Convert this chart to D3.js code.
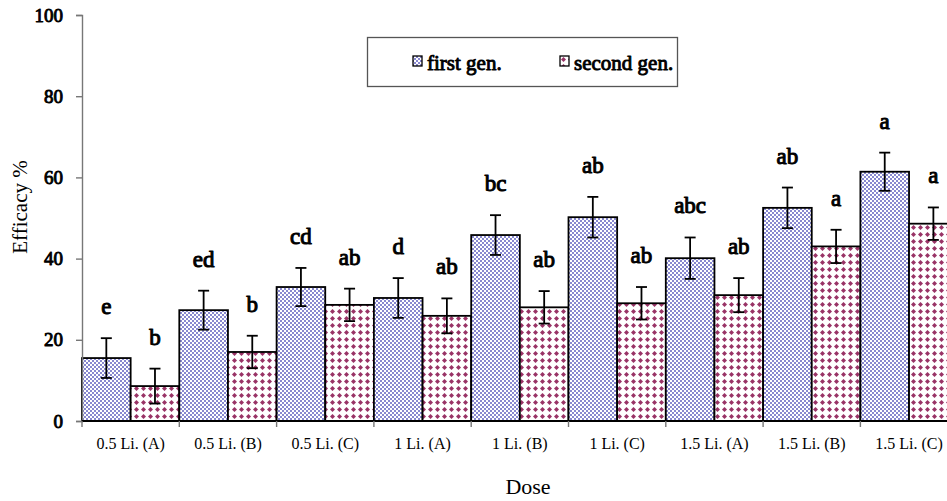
<!DOCTYPE html>
<html>
<head>
<meta charset="utf-8">
<script src="https://cdn.jsdelivr.net/npm/d3@7"></script>
<style>
  html, body { margin: 0; padding: 0; background: #fff; }
  svg { display: block; }
  text { font-family: "Liberation Serif", "Times New Roman", serif; fill: #000; }
  /* heavy serif look: regular face with a thin outline */
  text.heavy { font-weight: normal; stroke: #000; stroke-linejoin: round; }
</style>
</head>
<body>
<svg id="chart" width="947" height="501"></svg>
<script>
// values
const doses = ["0.5 Li. (A)", "0.5 Li. (B)", "0.5 Li. (C)", "1 Li. (A)", "1 Li. (B)",
  "1 Li. (C)", "1.5 Li. (A)", "1.5 Li. (B)", "1.5 Li. (C)"];
const series = ["first gen.", "second gen."];
const firstGen = [15.5, 27.3, 33.0, 30.3, 45.8, 50.2, 40.1, 52.5, 61.4];
const firstErr = [4.9, 4.8, 4.7, 4.9, 4.9, 5.0, 5.1, 5.0, 4.7];
const firstLetters = ["e", "ed", "cd", "d", "bc", "ab", "abc", "ab", "a"];
const secondGen = [8.6, 17.0, 28.6, 25.9, 28.0, 29.0, 31.0, 43.0, 48.6];
const secondErr = [4.3, 4.0, 4.0, 4.3, 4.0, 4.0, 4.2, 4.1, 4.0];
const secondLetters = ["b", "b", "ab", "ab", "ab", "ab", "ab", "a", "a"];
const yTicks = [0, 20, 40, 60, 80, 100];

const svg = d3.select("#chart");
const plotLeft = 82, plotBottom = 421, plotTop = 15, band = 97.3;

// fill patterns: lavender checkerboard, plum diamonds
const defs = svg.append("defs");
const chk = defs.append("pattern").attr("id", "pat-first")
  .attr("patternUnits", "userSpaceOnUse").attr("width", 4).attr("height", 4);
chk.append("rect").attr("width", 4).attr("height", 4).attr("fill", "#fff");
chk.append("rect").attr("width", 2).attr("height", 2).attr("fill", "#8888cf");
chk.append("rect").attr("x", 2).attr("y", 2).attr("width", 2).attr("height", 2).attr("fill", "#8888cf");

const dia = defs.append("pattern").attr("id", "pat-second")
  .attr("patternUnits", "userSpaceOnUse").attr("width", 7).attr("height", 7);
dia.append("rect").attr("width", 7).attr("height", 7).attr("fill", "#fff");
dia.append("path").attr("d", "M3.5,1 L6,3.5 L3.5,6 L1,3.5 Z").attr("fill", "#993366");

const x = d3.scaleBand().domain(doses).range([plotLeft, plotLeft + band * doses.length]).padding(0);
const xs = d3.scaleBand().domain(series).range([0, x.bandwidth()]).padding(0);
const y = d3.scaleLinear().domain([0, 100]).range([plotBottom, plotTop]);

const rows = doses.map((d, i) => [
  { dose: d, s: series[0], v: firstGen[i], e: firstErr[i], t: firstLetters[i] },
  { dose: d, s: series[1], v: secondGen[i], e: secondErr[i], t: secondLetters[i] },
]).flat();
const fillOf = (s) => s === series[0] ? "url(#pat-first)" : "url(#pat-second)";

// bars
svg.append("g").selectAll("rect").data(rows).join("rect")
  .attr("x", (d) => x(d.dose) + xs(d.s)).attr("width", xs.bandwidth())
  .attr("y", (d) => y(d.v)).attr("height", (d) => y(0) - y(d.v))
  .attr("fill", (d) => fillOf(d.s)).attr("stroke", "#000").attr("stroke-width", 1.8);

// error bars
const eb = svg.append("g").attr("stroke", "#000").attr("stroke-width", 1.8);
rows.forEach((d) => {
  const cx = x(d.dose) + xs(d.s) + xs.bandwidth() / 2;
  const y1 = y(d.v + d.e), y2 = y(d.v - d.e);
  eb.append("line").attr("x1", cx).attr("x2", cx).attr("y1", y1).attr("y2", y2);
  eb.append("line").attr("x1", cx - 5.5).attr("x2", cx + 5.5).attr("y1", y1).attr("y2", y1);
  eb.append("line").attr("x1", cx - 5.5).attr("x2", cx + 5.5).attr("y1", y2).attr("y2", y2);
});

// significance letters
svg.append("g").selectAll("text").data(rows).join("text")
  .attr("class", "heavy").attr("stroke-width", 1)
  .attr("x", (d) => x(d.dose) + xs(d.s) + xs.bandwidth() / 2)
  .attr("y", (d) => y(d.v + d.e) - 24)
  .attr("text-anchor", "middle").attr("font-size", 23)
  .text((d) => d.t);

// y axis
const ya = svg.append("g").attr("transform", `translate(${plotLeft},0)`)
  .call(d3.axisLeft(y).tickValues(yTicks).tickSize(6).tickPadding(13));
ya.attr("font-family", null);
ya.select(".domain").attr("stroke", "#777").attr("stroke-width", 1.4);
ya.selectAll(".tick line").attr("stroke", "#777").attr("stroke-width", 1.4);
ya.selectAll(".tick text").attr("class", "heavy").attr("stroke-width", 0.9).attr("font-size", 19);

// x axis
const xa = svg.append("g").attr("transform", `translate(0,${plotBottom})`)
  .call(d3.axisBottom(x).tickSize(0).tickPadding(17));
xa.attr("font-family", null);
xa.select(".domain").remove();
xa.selectAll(".tick text").attr("font-size", 16);
svg.append("line").attr("x1", plotLeft).attr("x2", 947).attr("y1", plotBottom).attr("y2", plotBottom)
  .attr("stroke", "#000").attr("stroke-width", 2);
svg.append("g").selectAll("line").data(doses).join("line")
  .attr("x1", (d) => x(d)).attr("x2", (d) => x(d))
  .attr("y1", plotBottom).attr("y2", plotBottom + 6).attr("stroke", "#777").attr("stroke-width", 1.4);

// axis titles
svg.append("text").attr("transform", "translate(27,207) rotate(-90)")
  .attr("text-anchor", "middle").attr("font-size", 21).text("Efficacy %");
svg.append("text").attr("x", 528).attr("y", 494).attr("text-anchor", "middle")
  .attr("font-size", 22).text("Dose");

// legend
const lg = svg.append("g");
lg.append("rect").attr("x", 367.5).attr("y", 37.5).attr("width", 310).attr("height", 49)
  .attr("fill", "#fff").attr("stroke", "#555").attr("stroke-width", 1.3);
const items = [{ s: series[0], x: 413 }, { s: series[1], x: 560 }];
items.forEach((it) => {
  lg.append("rect").attr("x", it.x).attr("y", 56).attr("width", 9).attr("height", 10)
    .attr("fill", fillOf(it.s)).attr("stroke", "#000").attr("stroke-width", 1.3);
  lg.append("text").attr("class", "heavy").attr("stroke-width", 0.9)
    .attr("x", it.x + 14).attr("y", 70).attr("font-size", 21).text(it.s);
});
</script>
</body>
</html>
